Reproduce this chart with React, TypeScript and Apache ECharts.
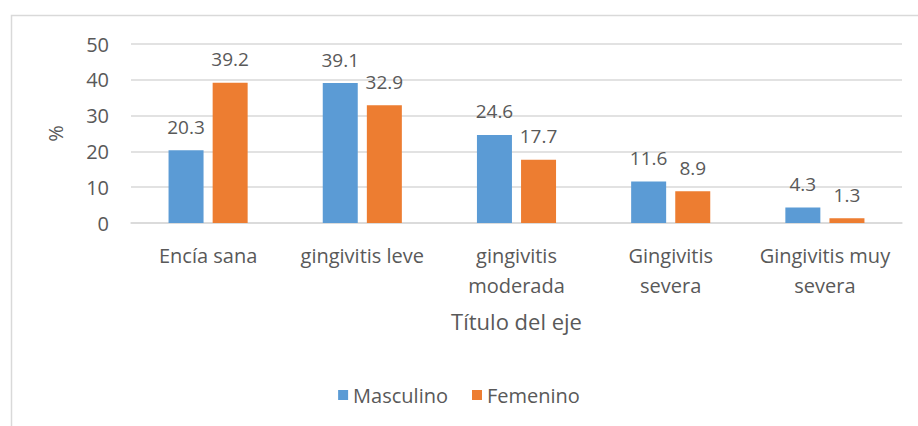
import React, { useEffect, useRef } from "react";
import * as echarts from "echarts";

const categories = [
  "Encía sana",
  "gingivitis leve",
  "gingivitis\nmoderada",
  "Gingivitis\nsevera",
  "Gingivitis muy\nsevera",
];
const masculino = [20.3, 39.1, 24.6, 11.6, 4.3];
const femenino = [39.2, 32.9, 17.7, 8.9, 1.3];
const seriesNames = ["Masculino", "Femenino"];

const FONT = "'Open Sans', 'Noto Sans', sans-serif";
const TEXT = "#595959";

export default function App() {
  const ref = useRef<HTMLDivElement>(null);
  useEffect(() => {
    document.body.style.margin = "0";
    const chart = echarts.init(ref.current!, null, { renderer: "svg" });
    const label = {
      show: true,
      position: "top" as const,
      distance: 14,
      color: TEXT,
      fontFamily: FONT,
      fontSize: 19,
      formatter: (p: any) => Number(p.value).toFixed(1),
    };
    chart.setOption({
      animation: false,
      backgroundColor: "#fff",
      textStyle: { fontFamily: FONT, color: TEXT },
      graphic: [
        {
          type: "rect",
          shape: { x: 11.5, y: 15.5, width: 920, height: 420 },
          style: { fill: "none", stroke: "#D9D9D9", lineWidth: 1.5 },
          silent: true,
        },
      ],
      grid: { left: 131, right: 16, top: 44, bottom: 203, containLabel: false },
      legend: {
        data: seriesNames,
        bottom: 16,
        left: "center",
        itemWidth: 10,
        itemHeight: 10,
        itemGap: 24,
        icon: "rect",
        textStyle: { color: TEXT, fontFamily: FONT, fontSize: 20 },
      },
      xAxis: {
        type: "category",
        data: categories,
        name: "Título del eje",
        nameLocation: "middle",
        nameGap: 87,
        nameTextStyle: { color: TEXT, fontFamily: FONT, fontSize: 22 },
        axisLine: { lineStyle: { color: "#D9D9D9", width: 1.5 } },
        axisTick: { show: false },
        axisLabel: {
          color: TEXT,
          fontFamily: FONT,
          fontSize: 20,
          margin: 17,
          lineHeight: 30,
          interval: 0,
        },
      },
      yAxis: {
        type: "value",
        min: 0,
        max: 50,
        interval: 10,
        name: "%",
        nameLocation: "middle",
        nameGap: 66,
        nameRotate: 90,
        nameTextStyle: { color: TEXT, fontFamily: FONT, fontSize: 20 },
        axisLine: { show: false },
        axisTick: { show: false },
        axisLabel: { color: TEXT, fontFamily: FONT, fontSize: 20, margin: 22 },
        splitLine: { lineStyle: { color: "#D9D9D9", width: 1.5 } },
      },
      series: [
        {
          name: seriesNames[0],
          type: "bar",
          data: masculino,
          barWidth: 35,
          barGap: "26%",
          itemStyle: { color: "#5B9BD5" },
          label,
        },
        {
          name: seriesNames[1],
          type: "bar",
          data: femenino,
          barWidth: 35,
          barGap: "26%",
          itemStyle: { color: "#ED7D31" },
          label,
        },
      ],
    });
    return () => chart.dispose();
  }, []);
  return (
    <div
      ref={ref}
      style={{ position: "absolute", left: 0, top: 0, width: 918, height: 426 }}
    />
  );
}
